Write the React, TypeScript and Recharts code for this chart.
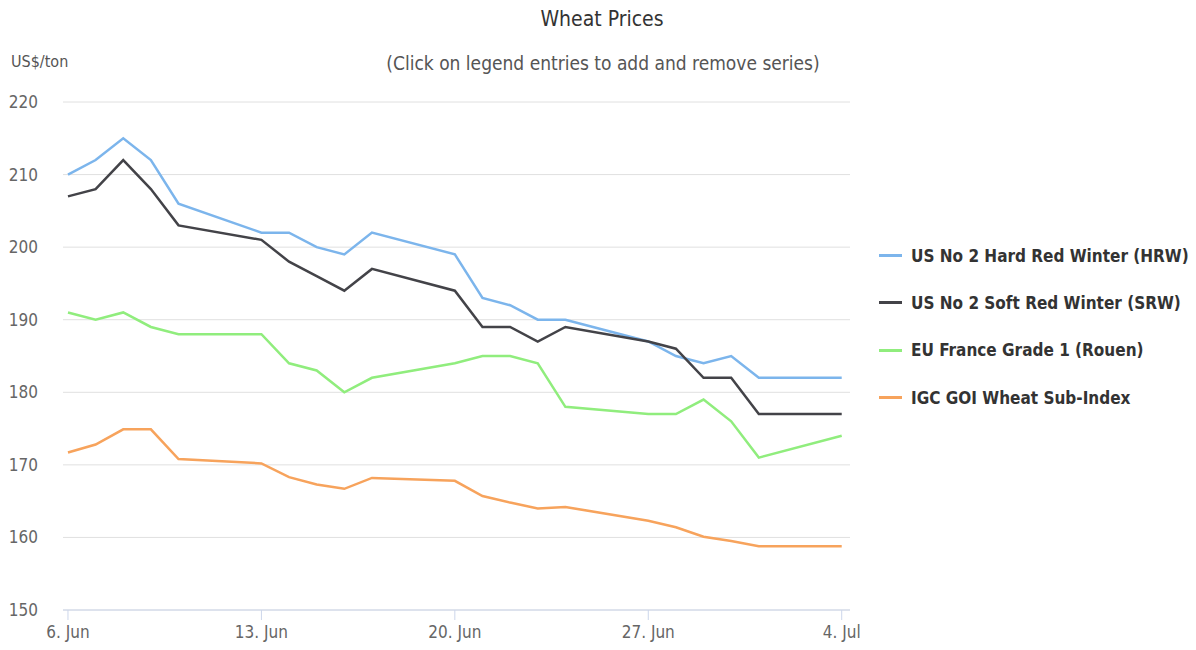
import React from "react";
import { LineChart, Line, XAxis, YAxis, CartesianGrid } from "recharts";

const dates = [
  "2016-06-06", "2016-06-07", "2016-06-08", "2016-06-09", "2016-06-10",
  "2016-06-13", "2016-06-14", "2016-06-15", "2016-06-16", "2016-06-17",
  "2016-06-20", "2016-06-21", "2016-06-22", "2016-06-23", "2016-06-24",
  "2016-06-27", "2016-06-28", "2016-06-29", "2016-06-30", "2016-07-01",
  "2016-07-04",
];

const hrw = [210, 212, 215, 212, 206, 202, 202, 200, 199, 202, 199, 193, 192, 190, 190, 187, 185, 184, 185, 182, 182];
const srw = [207, 208, 212, 208, 203, 201, 198, 196, 194, 197, 194, 189, 189, 187, 189, 187, 186, 182, 182, 177, 177];
const rouen = [191, 190, 191, 189, 188, 188, 184, 183, 180, 182, 184, 185, 185, 184, 178, 177, 177, 179, 176, 171, 174];
const goi = [171.7, 172.8, 174.9, 174.9, 170.8, 170.2, 168.3, 167.3, 166.7, 168.2, 167.8, 165.7, 164.8, 164.0, 164.2, 162.3, 161.4, 160.1, 159.5, 158.8, 158.8];

const xTicks = ["2016-06-06", "2016-06-13", "2016-06-20", "2016-06-27", "2016-07-04"];
const yTicks = [150, 160, 170, 180, 190, 200, 210, 220];
const monthNames = ["Jan", "Feb", "Mar", "Apr", "May", "Jun", "Jul", "Aug", "Sep", "Oct", "Nov", "Dec"];

const series = [
  { key: "hrw", name: "US No 2 Hard Red Winter (HRW)", color: "#7cb5ec" },
  { key: "srw", name: "US No 2 Soft Red Winter (SRW)", color: "#434348" },
  { key: "rouen", name: "EU France Grade 1 (Rouen)", color: "#90ed7d" },
  { key: "goi", name: "IGC GOI Wheat Sub-Index", color: "#f7a35c" },
];

const DAY = 86400000;
const start = Date.parse(dates[0]);
const toDay = (d: string) => (Date.parse(d) - start) / DAY;

const data = dates.map((d, i) => ({
  day: toDay(d),
  hrw: hrw[i],
  srw: srw[i],
  rouen: rouen[i],
  goi: goi[i],
}));

const fmtDay = (v: number) => {
  const d = new Date(start + v * DAY);
  return `${d.getUTCDate()}. ${monthNames[d.getUTCMonth()]}`;
};

const FONT = '"DejaVu Sans Condensed", "Liberation Sans Narrow", sans-serif';

export default function App() {
  return (
    <div style={{ position: "absolute", left: 0, top: 0, width: 1196, height: 650, fontFamily: FONT, background: "#fff" }}>
      <div style={{ position: "absolute", left: 0, width: 1204, top: 7, textAlign: "center", fontSize: 21, color: "#333" }}>
        Wheat Prices
      </div>
      <div style={{ position: "absolute", left: 0, width: 1206, top: 52, textAlign: "center", fontSize: 19, color: "#555" }}>
        (Click on legend entries to add and remove series)
      </div>
      <div style={{ position: "absolute", left: 11, top: 52, fontSize: 16, color: "#555" }}>US$/ton</div>

      <LineChart width={1196} height={650} data={data} margin={{ top: 102, right: 346, bottom: 0, left: 0 }}>
        <CartesianGrid vertical={false} stroke="#e0e0e0" />
        <XAxis
          dataKey="day"
          type="number"
          domain={[-0.18, 28.3]}
          ticks={xTicks.map(toDay)}
          tickFormatter={fmtDay}
          stroke="#ccd6eb"
          tickSize={10}
          tickMargin={6}
          height={40}
          tick={{ fill: "#666", fontSize: 17, fontFamily: FONT }}
          allowDataOverflow
        />
        <YAxis
          domain={[150, 220]}
          ticks={yTicks}
          width={63}
          axisLine={false}
          tickLine={false}
          tickSize={0}
          tickMargin={25}
          tick={{ fill: "#666", fontSize: 17, fontFamily: FONT }}
        />
        {series.map((s) => (
          <Line
            key={s.key}
            dataKey={s.key}
            name={s.name}
            stroke={s.color}
            strokeWidth={2.5}
            dot={false}
            type="linear"
            isAnimationActive={false}
          />
        ))}
      </LineChart>

      <div style={{ position: "absolute", left: 879, top: 232 }}>
        {series.map((s) => (
          <div key={s.key} style={{ display: "flex", alignItems: "center", height: 47.3 }}>
            <span style={{ display: "inline-block", width: 23, height: 3, background: s.color, marginRight: 9 }} />
            <span style={{ fontSize: 17, fontWeight: "bold", color: "#333" }}>{s.name}</span>
          </div>
        ))}
      </div>
    </div>
  );
}
